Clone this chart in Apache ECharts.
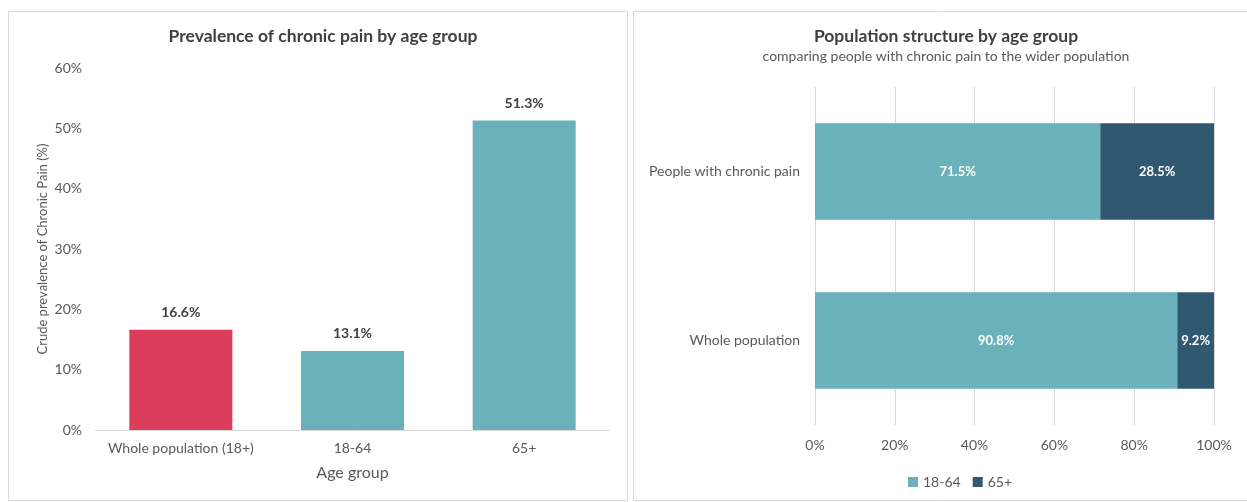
<!DOCTYPE html>
<html>
<head>
<meta charset="utf-8">
<script src="https://cdn.jsdelivr.net/npm/echarts@6/dist/echarts.min.js"></script>
<style>
html,body{margin:0;padding:0;background:#fff;}
#chart{width:1247px;height:502px;}
</style>
</head>
<body>
<div id="chart"></div>
<script>
// Left chart data
const ageCategories = ['Whole population (18+)', '18-64', '65+'];
const prevalence = [16.6, 13.1, 51.3];
const prevalenceTicks = [0, 10, 20, 30, 40, 50, 60];

// Right chart data
const groups = ['Whole population', 'People with chronic pain'];
const share1864 = [90.8, 71.5];
const share65 = [9.2, 28.5];
const shareTicks = [0, 20, 40, 60, 80, 100];

const FONT = 'Lato, "Open Sans", sans-serif';
const RED = '#DB3D5A';
const TEAL = '#6AB1BC';
const DARK = '#305870';
const TXT = '#595959';

const chart = echarts.init(document.getElementById('chart'));
chart.setOption({
  animation: false,
  textStyle: { fontFamily: FONT },
  graphic: [
    { type: 'rect', shape: { x: 8.5, y: 11.5, width: 619, height: 489 }, style: { fill: 'none', stroke: '#d9d9d9', lineWidth: 1 }, silent: true },
    { type: 'rect', shape: { x: 633.5, y: 11.5, width: 620, height: 489 }, style: { fill: 'none', stroke: '#d9d9d9', lineWidth: 1 }, silent: true }
  ],
  title: [
    { text: 'Prevalence of chronic pain by age group', left: 318, top: 22, textAlign: 'center',
      textStyle: { fontFamily: FONT, fontSize: 17.5, fontWeight: 'bold', color: '#404040' } },
    { text: 'Population structure by age group', subtext: 'comparing people with chronic pain to the wider population',
      left: 941, top: 22, textAlign: 'center', itemGap: 4,
      textStyle: { fontFamily: FONT, fontSize: 17.5, fontWeight: 'bold', color: '#404040' },
      subtextStyle: { fontFamily: FONT, fontSize: 14, color: TXT } }
  ],
  legend: {
    data: ['18-64', '65+'], left: 903, top: 470, itemWidth: 10, itemHeight: 10, itemGap: 12,
    icon: 'rect', textStyle: { fontFamily: FONT, fontSize: 14, color: TXT }
  },
  grid: [
    { left: 95, right: 637, top: 68, bottom: 72 },
    { left: 815, right: 33, top: 87, bottom: 77 }
  ],
  xAxis: [
    { type: 'category', gridIndex: 0, data: ageCategories,
      name: 'Age group', nameLocation: 'middle', nameGap: 35,
      nameTextStyle: { fontFamily: FONT, fontSize: 16, color: TXT },
      axisLine: { lineStyle: { color: '#d9d9d9' } }, axisTick: { show: false },
      axisLabel: { interval: 0, fontFamily: FONT, fontSize: 14, color: TXT, margin: 11 } },
    { type: 'value', gridIndex: 1, min: shareTicks[0], max: shareTicks[shareTicks.length - 1], interval: 20,
      axisLine: { show: false }, axisTick: { show: false },
      splitLine: { show: true, lineStyle: { color: '#d9d9d9' } },
      axisLabel: { fontFamily: FONT, fontSize: 14, color: TXT, margin: 13, formatter: v => v + '%' } }
  ],
  yAxis: [
    { type: 'value', gridIndex: 0, min: prevalenceTicks[0], max: prevalenceTicks[prevalenceTicks.length - 1], interval: 10,
      name: 'Crude prevalence of Chronic Pain (%)', nameLocation: 'middle', nameGap: 46, nameRotate: 90,
      nameTextStyle: { fontFamily: FONT, fontSize: 13, color: TXT },
      axisLine: { show: false }, axisTick: { show: false }, splitLine: { show: false },
      axisLabel: { fontFamily: FONT, fontSize: 14, color: TXT, margin: 13, formatter: v => v + '%' } },
    { type: 'category', gridIndex: 1, data: groups,
      axisLine: { show: false }, axisTick: { show: false },
      axisLabel: { fontFamily: FONT, fontSize: 14, color: TXT, margin: 15 } }
  ],
  series: [
    { type: 'bar', xAxisIndex: 0, yAxisIndex: 0, barCategoryGap: '40%',
      data: prevalence.map((v, i) => ({ value: v, itemStyle: { color: i === 0 ? RED : TEAL } })),
      label: { show: true, position: 'top', distance: 10, fontFamily: FONT, fontSize: 14, fontWeight: 'bold', color: '#404040',
        formatter: p => p.value.toFixed(1) + '%' } },
    { name: '18-64', type: 'bar', xAxisIndex: 1, yAxisIndex: 1, stack: 'pop', barCategoryGap: '43%',
      itemStyle: { color: TEAL }, data: share1864,
      label: { show: true, position: 'inside', fontFamily: FONT, fontSize: 13, fontWeight: 'bold', color: '#fff',
        formatter: p => p.value.toFixed(1) + '%' } },
    { name: '65+', type: 'bar', xAxisIndex: 1, yAxisIndex: 1, stack: 'pop', barCategoryGap: '43%',
      itemStyle: { color: DARK }, data: share65,
      label: { show: true, position: 'inside', fontFamily: FONT, fontSize: 13, fontWeight: 'bold', color: '#fff',
        formatter: p => p.value.toFixed(1) + '%' } }
  ]
});
</script>
</body>
</html>
